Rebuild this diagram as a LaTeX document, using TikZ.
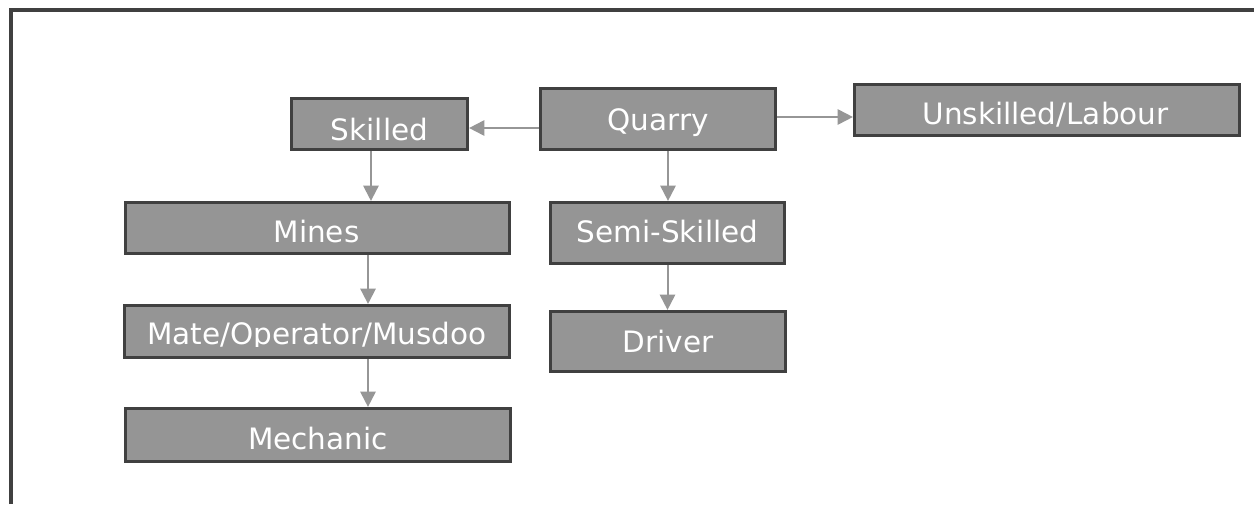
\documentclass[tikz,border=0pt]{standalone}
\usepackage{fontspec}
\setmainfont{DejaVu Sans}
\usetikzlibrary{arrows.meta,calc}
\definecolor{boxfill}{RGB}{149,149,149}
\definecolor{boxline}{RGB}{64,64,64}
\definecolor{arrcol}{RGB}{150,150,150}
\begin{document}
\begin{tikzpicture}[x=0.75pt,y=-0.75pt,
  box/.style={draw=boxline,fill=boxfill,line width=2.4pt,inner sep=0pt,rectangle},
  lbl/.style={text=white,inner sep=0pt,anchor=center,font=\fontsize{22.1}{26}\selectfont,text height=16.1pt,text depth=0pt},
  arr/.style={draw=arrcol,line width=1.5pt,-{Triangle[length=11.5pt,width=11.5pt]}}]
\useasboundingbox (0,0) rectangle (1254,504);
\fill[white] (0,0) rectangle (1254,504);
% frame
\coordinate (fa) at (11,504);
\coordinate (fb) at (11,9.5);
\coordinate (fc) at (1254,9.5);
\draw[boxline,line width=3pt] (fa) -- (fb) -- (fc);
% boxes
\node[box,minimum width=132pt,minimum height=38.25pt] (skilled) at (379.5,124) {};
\node[box,minimum width=176.25pt,minimum height=45.75pt] (quarry) at (658,119) {};
\node[box,minimum width=288.75pt,minimum height=38.25pt] (unsk) at (1047,110) {};
\node[box,minimum width=288pt,minimum height=38.25pt] (mines) at (317.5,228) {};
\node[box,minimum width=175.5pt,minimum height=45.75pt] (semi) at (667.5,233) {};
\node[box,minimum width=288.75pt,minimum height=39pt] (mate) at (317,331.5) {};
\node[box,minimum width=176.25pt,minimum height=45pt] (driver) at (668,341.5) {};
\node[box,minimum width=288.75pt,minimum height=39.75pt] (mech) at (318,435) {};
% labels
\node[lbl] (tskilled) at ([yshift=-4.1pt]skilled.center) {Skilled};
\node[lbl] (tquarry) at ([yshift=-0.75pt]quarry.center) {Quarry};
\node[lbl] (tunsk) at ([xshift=-1.1pt,yshift=-3pt]unsk.center) {Unskilled/Labour};
\node[lbl] (tmines) at ([xshift=-0.75pt,yshift=-2.6pt]mines.center) {Mines};
\node[lbl] (tsemi) at ([yshift=1.1pt]semi.center) {Semi-Skilled};
\begin{scope}
\clip ([yshift=9.4pt]mate.south west) rectangle (mate.north east);
\node[lbl] (tmate) at ([yshift=-1.9pt]mate.center) {Mate/Operator/Musdoo};
\end{scope}
\node[lbl] (tdriver) at (driver.center) {Driver};
\node[lbl] (tmech) at ([yshift=-3pt]mech.center) {Mechanic};
% connectors
\draw[arr] ([yshift=-6.75pt]quarry.west) -- ([yshift=-6.75pt]quarry.west -| skilled.east);
\draw[arr] ([yshift=1.5pt]quarry.east) -- ([yshift=1.5pt]quarry.east -| unsk.west);
\draw[arr] ([xshift=-6.4pt]skilled.south) -- ([xshift=-6.4pt]skilled.south |- mines.north);
\draw[arr] ([xshift=7.5pt]quarry.south) -- ([xshift=7.5pt]quarry.south |- semi.north);
\draw[arr] ([xshift=37.9pt]mines.south) -- ([xshift=37.9pt]mines.south |- mate.north);
\draw[arr] (semi.south) -- (semi.south |- driver.north);
\draw[arr] ([xshift=38.25pt]mate.south) -- ([xshift=38.25pt]mate.south |- mech.north);
\end{tikzpicture}
\end{document}
